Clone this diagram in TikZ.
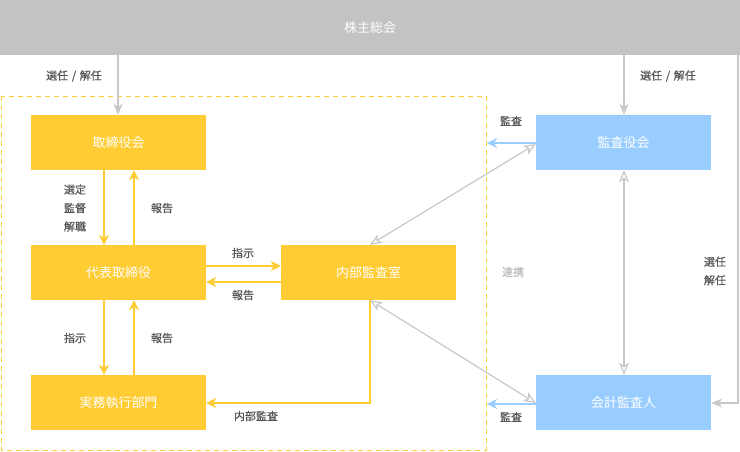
\documentclass[tikz,border=0pt]{standalone}
\usepackage{fontspec}
\setmainfont{Noto Sans CJK JP}
\newfontfamily\lblfont[FakeBold=0.6]{Noto Sans CJK JP}
\usetikzlibrary{arrows.meta}
\definecolor{ylw}{HTML}{FFCC33}
\definecolor{blu}{HTML}{99CCFF}
\definecolor{barg}{HTML}{C3C3C3}
\definecolor{lineg}{HTML}{C8C8C8}
\definecolor{txtg}{HTML}{555555}
\definecolor{lightg}{HTML}{BBBBBB}
\tikzset{
  ybox/.style={fill=ylw,draw=none,minimum width=175pt,minimum height=55pt,inner sep=0pt,text=white,font=\fontsize{13}{14}\selectfont},
  bbox/.style={ybox,fill=blu},
  lbl/.style={text=txtg,font=\lblfont\fontsize{11}{18.5}\selectfont,inner sep=0pt,align=center},
  yarr/.style={draw=ylw,line width=1.2pt,-{Stealth[length=10pt,width=10pt,inset=3pt]}},
  garr/.style={draw=lineg,line width=1.2pt,-{Stealth[length=11pt,width=9pt,inset=3pt]}},
  oarr/.style={draw=lineg,line width=1.2pt,{Stealth[open,length=12pt,width=10pt,inset=3pt,line width=1.2pt]}-{Stealth[open,length=12pt,width=10pt,inset=3pt,line width=1.2pt]}},
  barr/.style={draw=blu,line width=1.5pt,-{Stealth[length=10pt,width=10pt,inset=3pt]}},
}
\begin{document}
\begin{tikzpicture}[x=1pt,y=-1pt]
\useasboundingbox (0,0) rectangle (740,451);
% top bar
\node[fill=barg,minimum width=740pt,minimum height=55pt,inner sep=0pt,text=white,font=\fontsize{13}{14}\selectfont] (gm) at (370,27.5) {株主総会};
% dashed frame
\draw[ylw,line width=1pt,dash pattern=on 5pt off 4pt] (1,96) rectangle (486,450);
% boxes
\node[ybox] (bod) at (118.5,142.5) {取締役会};
\node[ybox] (ceo) at (118.5,272.5) {代表取締役};
\node[ybox] (ops) at (118.5,402.5) {実務執行部門};
\node[ybox] (ia) at (368.5,272.5) {内部監査室};
\node[bbox] (aud) at (623.5,142.5) {監査役会};
\node[bbox] (ext) at (623.5,402.5) {会計監査人};
% coordinates
\coordinate (gmL) at (118,55);
\coordinate (gmR) at (624,55);
\coordinate (gmE) at (738,55);
\coordinate (frameT) at (487,143);
\coordinate (frameB) at (487,404);
% gray election arrows
\draw[garr] (gmL) -- (bod.north -| gmL);
\draw[garr] (gmR) -- (aud.north -| gmR);
\draw[garr] (gmE) -- (738,403) -- (ext.east |- 0,403);
\node[lbl] at (74,76) {選任\,\,/\,\,解任};
\node[lbl] at (668,76) {選任\,\,/\,\,解任};
\node[lbl] at (715,271) {選任\\解任};
% yellow arrows board / ceo
\draw[yarr] (bod.south -| 104,0) -- (ceo.north -| 104,0);
\draw[yarr] (ceo.north -| 134,0) -- (bod.south -| 134,0);
\node[lbl] at (75,208) {選定\\監督\\解職};
\node[lbl] at (162,208) {報告};
% ceo / ops
\draw[yarr] (ceo.south -| 104,0) -- (ops.north -| 104,0);
\draw[yarr] (ops.north -| 134,0) -- (ceo.south -| 134,0);
\node[lbl] at (75,338) {指示};
\node[lbl] at (162,338) {報告};
% ceo / ia
\draw[yarr] (ceo.east |- 0,266) -- (ia.west |- 0,266);
\draw[yarr] (ia.west |- 0,282) -- (ceo.east |- 0,282);
\node[lbl] at (243,253) {指示};
\node[lbl] at (243,295) {報告};
% ia -> ops
\draw[yarr] (ia.south -| 370,0) -- (370,403) -- (ops.east |- 0,403);
\node[lbl] at (256,416) {内部監査};
% blue audit arrows
\draw[barr] (aud.west |- frameT) -- (frameT);
\draw[barr] (ext.west |- frameB) -- (frameB);
\node[lbl] at (511,121) {監査};
\node[lbl] at (511,417) {監査};
% cooperation
\draw[oarr] (aud.west |- 0,144) -- (ia.north -| 370,0);
\draw[oarr] (ext.west |- 0,403) -- (ia.south -| 370,0);
\draw[oarr,line width=2.2pt] (aud.south -| 624,0) -- (ext.north -| 624,0);
\node[lbl,text=lightg] at (513,272) {連携};
\end{tikzpicture}
\end{document}
